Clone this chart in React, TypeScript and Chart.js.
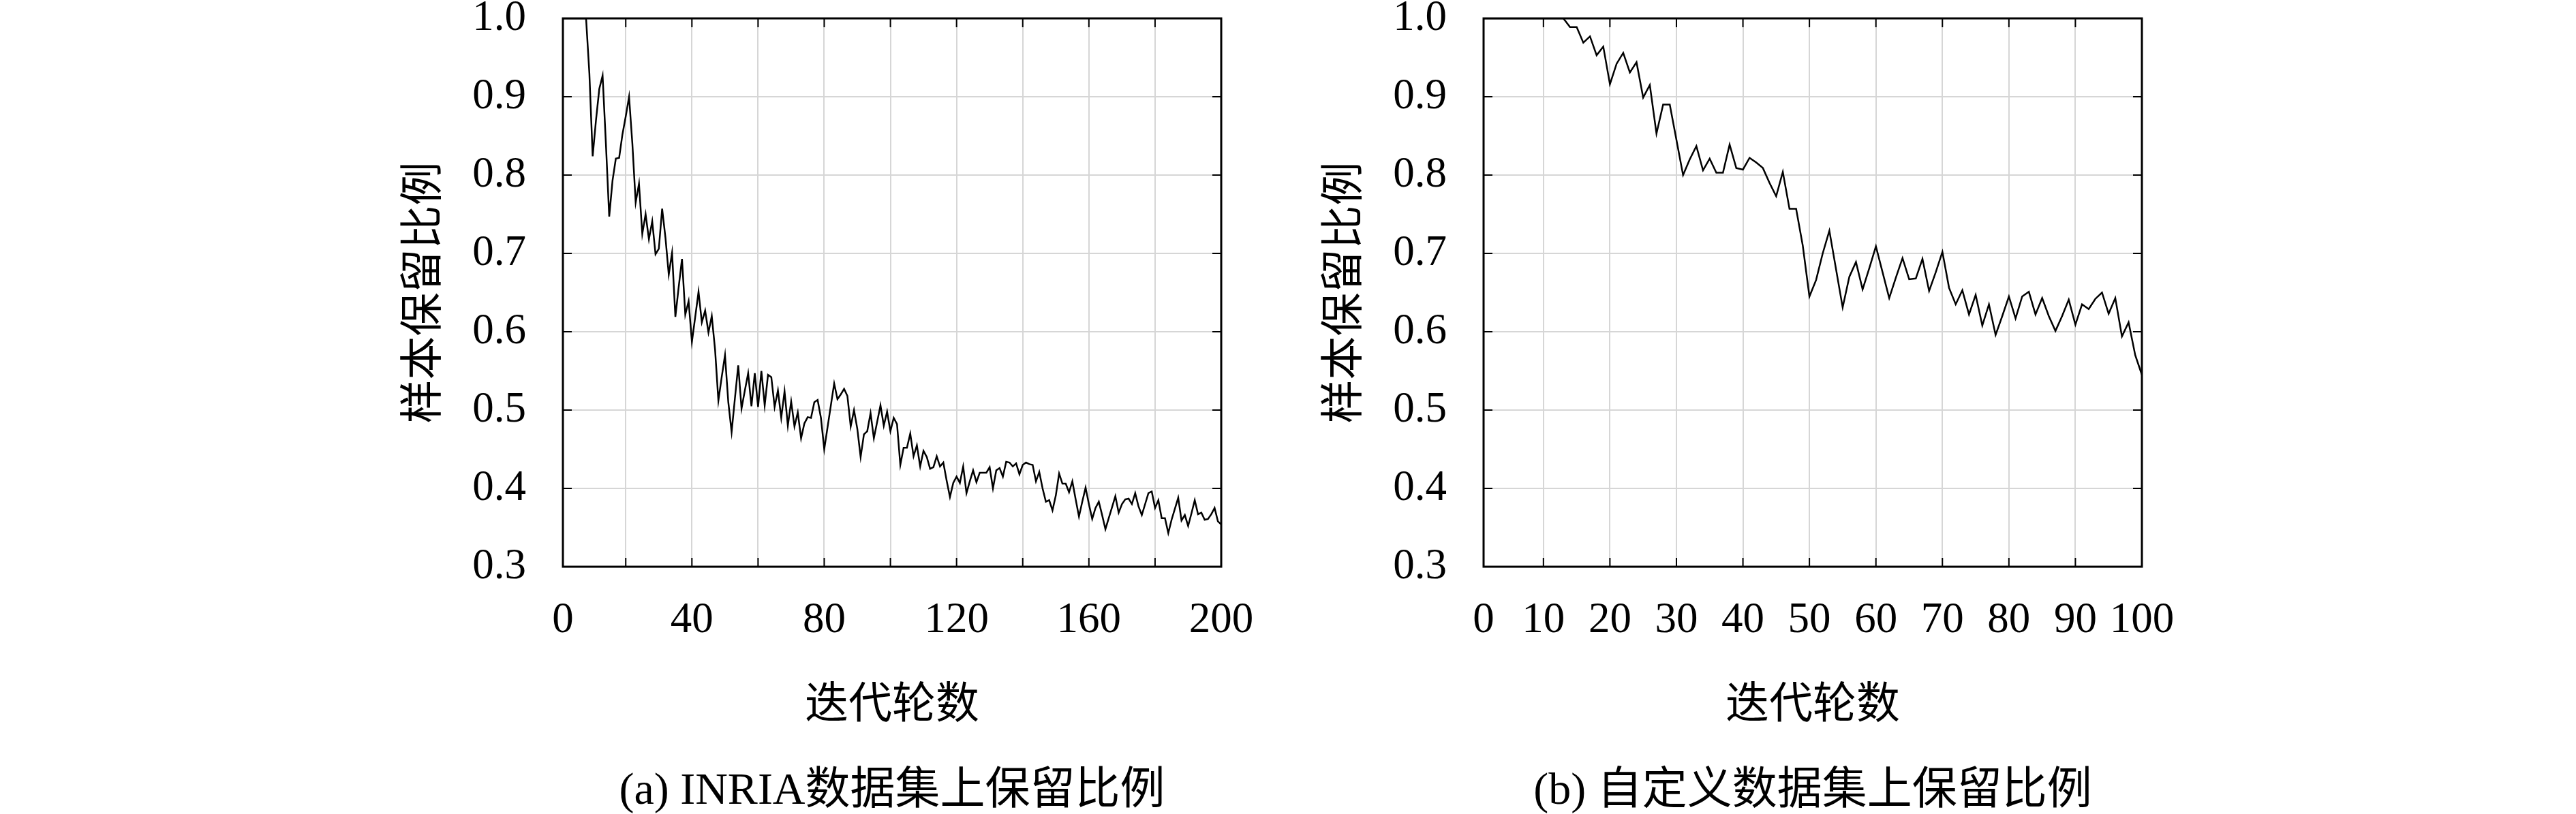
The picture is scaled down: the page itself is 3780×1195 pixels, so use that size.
import { useEffect, useRef } from "react";
import { Chart, registerables } from "chart.js";

Chart.register(...registerables);

// retention ratio per iteration
const inriaRatio = [
  1.0, 1.0, 1.0, 1.0, 1.0, 1.0, 1.0, 1.0, 0.93, 0.824,
  0.87, 0.91, 0.927, 0.84, 0.747, 0.793, 0.821, 0.822, 0.852, 0.875,
  0.9, 0.84, 0.765, 0.789, 0.725, 0.75, 0.718, 0.741, 0.699, 0.706,
  0.757, 0.72, 0.673, 0.701, 0.619, 0.657, 0.693, 0.622, 0.639, 0.587,
  0.619, 0.651, 0.612, 0.627, 0.599, 0.62, 0.577, 0.512, 0.542, 0.57,
  0.51, 0.472, 0.515, 0.557, 0.502, 0.525, 0.547, 0.505, 0.547, 0.504,
  0.55, 0.506, 0.545, 0.542, 0.504, 0.525, 0.49, 0.524, 0.48, 0.511,
  0.479, 0.497, 0.464, 0.483, 0.491, 0.49, 0.51, 0.513, 0.49, 0.45,
  0.478, 0.506, 0.534, 0.514, 0.52, 0.527, 0.518, 0.479, 0.5, 0.476,
  0.44, 0.469, 0.473, 0.496, 0.464, 0.485, 0.506, 0.48, 0.498, 0.473,
  0.49, 0.482, 0.43, 0.452, 0.452, 0.47, 0.441, 0.455, 0.428, 0.448,
  0.44, 0.425, 0.427, 0.441, 0.428, 0.433, 0.41, 0.389, 0.407, 0.415,
  0.407, 0.428, 0.394, 0.409, 0.423, 0.408, 0.42, 0.42, 0.42, 0.427,
  0.4, 0.423, 0.426, 0.415, 0.434, 0.433, 0.428, 0.432, 0.418, 0.43,
  0.433, 0.431, 0.43, 0.409, 0.421, 0.4, 0.383, 0.385, 0.372, 0.391,
  0.419, 0.406, 0.406, 0.395, 0.409, 0.386, 0.364, 0.383, 0.401, 0.38,
  0.361, 0.375, 0.383, 0.366, 0.348, 0.362, 0.376, 0.39, 0.369, 0.38,
  0.386, 0.387, 0.38, 0.394, 0.377, 0.366, 0.38, 0.394, 0.396, 0.375,
  0.385, 0.362, 0.362, 0.343, 0.36, 0.374, 0.388, 0.359, 0.366, 0.352,
  0.368, 0.385, 0.367, 0.369, 0.36, 0.361, 0.367, 0.375, 0.358, 0.354,
];

const customRatio = [
  1.0, 1.0, 1.0, 1.0, 1.0, 1.0, 1.0, 1.0, 1.0, 1.0,
  1.0, 1.0, 1.0, 0.989, 0.989, 0.969, 0.977, 0.953, 0.964, 0.916,
  0.942, 0.956, 0.931, 0.944, 0.899, 0.915, 0.853, 0.89, 0.89, 0.845,
  0.8, 0.82, 0.837, 0.806, 0.821, 0.803, 0.803, 0.839, 0.809, 0.807,
  0.822, 0.816, 0.809, 0.79, 0.773, 0.804, 0.757, 0.757, 0.71, 0.645,
  0.666, 0.7, 0.729, 0.68, 0.631, 0.67, 0.689, 0.654, 0.681, 0.709,
  0.676, 0.643, 0.669, 0.694, 0.667, 0.668, 0.693, 0.652, 0.676, 0.702,
  0.656, 0.635, 0.653, 0.622, 0.647, 0.608, 0.635, 0.596, 0.62, 0.645,
  0.617, 0.645, 0.651, 0.622, 0.643, 0.62, 0.601, 0.62, 0.641, 0.609,
  0.635, 0.629, 0.642, 0.65, 0.623, 0.643, 0.594, 0.612, 0.57, 0.545,
];

const inriaRounds = inriaRatio.map((_, i) => i + 1);
const customRounds = customRatio.map((_, i) => i + 1);

const inriaTickValues = [1, 20, 40, 60, 80, 100, 120, 140, 160, 180, 200];
const inriaTickLabels = ["0", "", "40", "", "80", "", "120", "", "160", "", "200"];
const customTickValues = [1, 10, 20, 30, 40, 50, 60, 70, 80, 90, 100];
const customTickLabels = ["0", "10", "20", "30", "40", "50", "60", "70", "80", "90", "100"];
const yTickValues = [0.3, 0.4, 0.5, 0.6, 0.7, 0.8, 0.9, 1.0];

const yTitle = "样本保留比例";
const xTitle = "迭代轮数";

const SERIF = '"Liberation Serif", "Noto Sans CJK SC", serif';
const CJK = '"Noto Sans CJK SC", sans-serif';

const PLOT_TOP = 27;
const PLOT_BOTTOM = 832;
const CANVAS_H = 1100;
const TICK = 13;

// black box round the plot plus the little inward tick marks
const framePlugin = {
  id: "frame",
  afterDraw(chart: any) {
    const { ctx, chartArea: a, scales } = chart;
    ctx.save();
    ctx.strokeStyle = "#000";
    ctx.lineWidth = 2;
    ctx.beginPath();
    for (const t of scales.x.ticks) {
      const px = scales.x.getPixelForValue(t.value);
      if (px <= a.left + 1 || px >= a.right - 1) continue;
      ctx.moveTo(px, a.top);
      ctx.lineTo(px, a.top + TICK);
      ctx.moveTo(px, a.bottom);
      ctx.lineTo(px, a.bottom - TICK);
    }
    for (const t of scales.y.ticks) {
      const py = scales.y.getPixelForValue(t.value);
      if (py <= a.top + 1 || py >= a.bottom - 1) continue;
      ctx.moveTo(a.left, py);
      ctx.lineTo(a.left + TICK, py);
      ctx.moveTo(a.right, py);
      ctx.lineTo(a.right - TICK, py);
    }
    ctx.stroke();
    ctx.lineWidth = 3;
    ctx.strokeRect(a.left, a.top, a.right - a.left, a.bottom - a.top);
    ctx.restore();
  },
};

interface RatioChartProps {
  left: number;
  width: number;
  plotLeft: number;
  plotRight: number;
  rounds: number[];
  values: number[];
  tickValues: number[];
  tickLabels: string[];
  caption: string;
}

const RatioChart = ({ left, width, plotLeft, plotRight, rounds, values, tickValues, tickLabels, caption }: RatioChartProps) => {
  const canvasRef = useRef<HTMLCanvasElement>(null);

  useEffect(() => {
    if (!canvasRef.current) return;
    const axisWidth = plotLeft - left;
    const yTitleCenter = plotLeft - 209 - left;

    const chart = new Chart(canvasRef.current, {
      type: "line",
      data: {
        labels: rounds,
        datasets: [
          {
            data: values,
            borderColor: "#000",
            borderWidth: 2.5,
            pointRadius: 0,
            tension: 0,
            fill: false,
          },
        ],
      },
      options: {
        responsive: true,
        maintainAspectRatio: false,
        animation: false,
        layout: { padding: { top: PLOT_TOP, right: left + width - plotRight, left: 0, bottom: 0 } },
        plugins: { legend: { display: false }, tooltip: { enabled: false } },
        scales: {
          x: {
            type: "linear",
            min: rounds[0],
            max: rounds[rounds.length - 1],
            afterBuildTicks: (scale: any) => {
              scale.ticks = tickValues.map((v) => ({ value: v }));
            },
            afterFit: (scale: any) => {
              scale.height = CANVAS_H - PLOT_BOTTOM;
            },
            // tick length used as the label gap (ticks.padding would also pad the plot area)
            grid: { color: "#d6d6d6", lineWidth: 2, drawTicks: true, tickLength: 42, tickColor: "rgba(0,0,0,0)" },
            border: { display: false },
            ticks: {
              autoSkip: false,
              maxRotation: 0,
              padding: 0,
              color: "#000",
              font: { family: SERIF, size: 63 },
              callback: (_v: any, i: number) => tickLabels[i],
            },
            title: {
              display: true,
              text: xTitle,
              color: "#000",
              font: { family: CJK, size: 64, lineHeight: 1.2 },
              padding: { top: 0, bottom: 31.6 },
            },
          },
          y: {
            min: 0.3,
            max: 1.0,
            afterBuildTicks: (scale: any) => {
              scale.ticks = yTickValues.map((v) => ({ value: v }));
            },
            afterFit: (scale: any) => {
              scale.width = axisWidth;
            },
            grid: { color: "#d6d6d6", lineWidth: 2, drawTicks: true, tickLength: 54, tickColor: "rgba(0,0,0,0)" },
            border: { display: false },
            ticks: {
              padding: 0,
              color: "#000",
              font: { family: SERIF, size: 63, lineHeight: 0.8 },
              callback: (v: any) => Number(v).toFixed(1),
            },
            title: {
              display: true,
              text: yTitle,
              color: "#000",
              font: { family: CJK, size: 64, lineHeight: 1.2 },
              padding: { top: yTitleCenter - 38.4, bottom: 0 },
            },
          },
        },
      },
      plugins: [framePlugin],
    });

    return () => {
      chart.destroy();
    };
  }, [left, width, plotLeft, plotRight, rounds, values, tickValues, tickLabels]);

  const center = (plotLeft + plotRight) / 2;
  return (
    <>
      <div style={{ position: "absolute", left, top: 0, width, height: CANVAS_H }}>
        <canvas ref={canvasRef} />
      </div>
      <div
        style={{
          position: "absolute",
          left: center - 800,
          width: 1600,
          top: 1125,
          textAlign: "center",
          fontFamily: SERIF,
          fontSize: 66,
          lineHeight: 1,
          color: "#000",
          whiteSpace: "nowrap",
        }}
      >
        {caption}
      </div>
    </>
  );
};

export default function App() {
  useEffect(() => {
    document.body.style.margin = "0";
    document.body.style.background = "#fff";
  }, []);

  return (
    <div style={{ position: "relative", width: 3780, height: 1195, overflow: "hidden", background: "#fff" }}>
      <RatioChart
        left={0}
        width={1860}
        plotLeft={826}
        plotRight={1792}
        rounds={inriaRounds}
        values={inriaRatio}
        tickValues={inriaTickValues}
        tickLabels={inriaTickLabels}
        caption="(a) INRIA数据集上保留比例"
      />
      <RatioChart
        left={1860}
        width={1400}
        plotLeft={2177}
        plotRight={3143}
        rounds={customRounds}
        values={customRatio}
        tickValues={customTickValues}
        tickLabels={customTickLabels}
        caption="(b) 自定义数据集上保留比例"
      />
    </div>
  );
}
